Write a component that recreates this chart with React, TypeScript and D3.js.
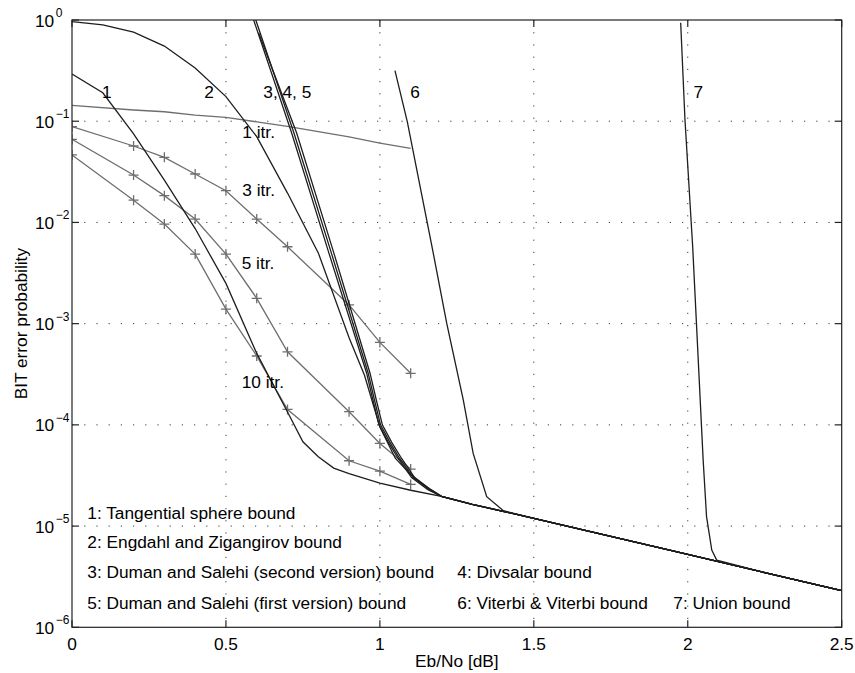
import React, { useEffect } from 'react'
import * as d3 from 'd3'

const W = 855
const H = 673
const plot = { left: 72, right: 841.7, top: 20, bottom: 627.3 }

// error floor that all the bounds run into at high Eb/No
const floorX = [1.2, 1.3, 1.4, 1.5, 1.75, 2.0, 2.25, 2.5]
const floorY = [1.97e-5, 1.64e-5, 1.4e-5, 1.19e-5, 7.9e-6, 5.25e-6, 3.47e-6, 2.3e-6]

// 1: tangential sphere bound
const tsbX = [0, 0.1, 0.2, 0.3, 0.4, 0.5, 0.6, 0.7, 0.75, 0.8, 0.85, 0.9, 1.0, 1.1]
const tsbY = [0.292, 0.191, 0.0748, 0.0262, 0.0087, 0.0025, 5.08e-4, 1.34e-4, 6.8e-5, 4.84e-5, 3.74e-5, 3.3e-5, 2.66e-5, 2.26e-5]

// 2: Engdahl and Zigangirov
const ezX = [0, 0.1, 0.2, 0.3, 0.4, 0.5, 0.6, 0.7, 0.8, 0.9, 0.95, 1.0, 1.05, 1.1, 1.15]
const ezY = [0.962, 0.893, 0.76, 0.553, 0.336, 0.175, 0.0703, 0.0195, 5.0e-3, 7.26e-4, 3.09e-4, 9.55e-5, 4.68e-5, 3.24e-5, 2.45e-5]

// 3, 4, 5: Duman-Salehi (2nd), Divsalar, Duman-Salehi (1st)
const ds2X = [0.59, 0.7135, 0.8314, 0.957, 0.977, 0.997, 1.027, 1.059, 1.103, 1.156]
const ds2Y = [1.0, 0.0764, 5.33e-3, 3.24e-4, 1.78e-4, 1.0e-4, 6.76e-5, 4.68e-5, 3.02e-5, 2.29e-5]
const divX = [0.597, 0.7209, 0.8395, 0.962, 0.982, 1.002, 1.032, 1.064, 1.108, 1.162]
const divY = [1.0, 0.0764, 5.33e-3, 3.24e-4, 1.78e-4, 1.0e-4, 6.76e-5, 4.68e-5, 3.02e-5, 2.29e-5]
const ds1X = [0.606, 0.7297, 0.8476, 0.968, 0.988, 1.008, 1.038, 1.07, 1.113, 1.166]
const ds1Y = [0.75, 0.0764, 5.33e-3, 3.24e-4, 1.78e-4, 1.0e-4, 6.76e-5, 4.68e-5, 3.02e-5, 2.29e-5]

// 6: Viterbi & Viterbi
const vvX = [1.049, 1.089, 1.171, 1.217, 1.271, 1.303, 1.347, 1.401]
const vvY = [0.316, 0.0989, 5.42e-3, 1.01e-3, 1.76e-4, 5.22e-5, 1.95e-5, 1.42e-5]

// 7: union bound
const ubX = [1.977, 1.991, 2.016, 2.05, 2.061, 2.078, 2.094]
const ubY = [0.94, 0.103, 5.75e-3, 4.49e-5, 1.24e-5, 5.79e-6, 4.61e-6]

// iterative decoding simulations
const itrX = [0, 0.2, 0.3, 0.4, 0.5, 0.6, 0.7, 0.9, 1.0, 1.1]
const itr1 = [0.1436, 0.129, 0.124, 0.115, 0.109, 0.0986, 0.0891, 0.07, 0.0608, 0.054]
const itr3 = [0.0883, 0.0569, 0.044, 0.0301, 0.0206, 0.0108, 0.00575, 0.00153, 6.53e-4, 3.23e-4]
const itr5 = [0.0663, 0.0294, 0.0184, 0.0108, 0.00487, 1.78e-3, 5.27e-4, 1.35e-4, 6.56e-5, 3.66e-5]
const itr10 = [0.0464, 0.0166, 0.00964, 0.00487, 1.39e-3, 4.79e-4, 1.42e-4, 4.42e-5, 3.49e-5, 2.58e-5]

const xTicks = [0, 0.5, 1, 1.5, 2, 2.5]
const yExps = [0, -1, -2, -3, -4, -5, -6]

const legendLines = [
  { text: '1: Tangential sphere bound', x: 87.3, y: 518.7 },
  { text: '2: Engdahl and Zigangirov bound', x: 87.3, y: 547.5 },
  { text: '3: Duman and Salehi (second version) bound', x: 87.3, y: 578.3 },
  { text: '4: Divsalar bound', x: 457.3, y: 578.3 },
  { text: '5: Duman and Salehi (first version) bound', x: 87.3, y: 609 },
  { text: '6: Viterbi & Viterbi bound', x: 457.3, y: 609 },
  { text: '7: Union bound', x: 673.3, y: 609 },
]

type Pt = [number, number]

function zip(xs: number[], ys: number[]): Pt[] {
  return xs.map((x, i) => [x, ys[i]] as Pt)
}

function withFloor(xs: number[], ys: number[]): Pt[] {
  const head = zip(xs, ys)
  const last = xs[xs.length - 1]
  return head.concat(zip(floorX, floorY).filter((p) => p[0] > last))
}

const FONT = "'Liberation Sans', Arial, Helvetica, sans-serif"

export default function App() {
  useEffect(() => {
    document.body.style.margin = '0'
  }, [])

  const x = d3.scaleLinear().domain([0, 2.5]).range([plot.left, plot.right])
  const y = d3.scaleLog().domain([1e-6, 1]).range([plot.bottom, plot.top])
  const line = d3
    .line<Pt>()
    .x((d) => x(d[0]))
    .y((d) => y(d[1]))

  const bounds = [
    withFloor(tsbX, tsbY),
    withFloor(ezX, ezY),
    withFloor(ds2X, ds2Y),
    withFloor(divX, divY),
    withFloor(ds1X, ds1Y),
    withFloor(vvX, vvY),
    withFloor(ubX, ubY),
  ]
  const sims = [itr1, itr3, itr5, itr10].map((ys) => zip(itrX, ys))
  const marked = sims.slice(1)

  const boundColor = '#1e1e1e'
  const simColor = '#6e6e6e'
  const pw = plot.right - plot.left
  const ph = plot.bottom - plot.top

  return (
    <svg width={W} height={H} style={{ display: 'block', background: '#fff' }} fontFamily={FONT}>
      <defs>
        <clipPath id="plotClip">
          <rect x={plot.left} y={plot.top} width={pw} height={ph} />
        </clipPath>
      </defs>

      {/* dotted grid */}
      <g stroke="#3a3a3a" strokeWidth={1} strokeDasharray="1.2 11">
        {xTicks.slice(1, -1).map((t) => (
          <line key={'gx' + t} x1={x(t)} x2={x(t)} y1={plot.top} y2={plot.bottom} />
        ))}
        {yExps.slice(1, -1).map((e) => (
          <line key={'gy' + e} x1={plot.left} x2={plot.right} y1={y(10 ** e)} y2={y(10 ** e)} />
        ))}
      </g>

      <g clipPath="url(#plotClip)" fill="none">
        {sims.map((pts, i) => (
          <path key={'s' + i} d={line(pts) || ''} stroke={simColor} strokeWidth={1.3} />
        ))}
        {marked.map((pts, i) =>
          pts.map((p, j) => {
            const cx = x(p[0])
            const cy = y(p[1])
            return (
              <path
                key={'m' + i + '-' + j}
                d={`M${cx - 5},${cy}H${cx + 5}M${cx},${cy - 5}V${cy + 5}`}
                stroke={simColor}
                strokeWidth={1.3}
              />
            )
          })
        )}
        {bounds.map((pts, i) => (
          <path key={'b' + i} d={line(pts) || ''} stroke={boundColor} strokeWidth={1.3} />
        ))}
      </g>

      {/* curve labels */}
      <g fontSize={17.3} fill="#000">
        <text x={106.7} y={97.5} textAnchor="middle">1</text>
        <text x={209} y={97.5} textAnchor="middle">2</text>
        <text x={263.3} y={97.5}>3, 4, 5</text>
        <text x={415} y={97.5} textAnchor="middle">6</text>
        <text x={698.3} y={97.5} textAnchor="middle">7</text>
        <text x={242.3} y={137.5}>1 itr.</text>
        <text x={242.3} y={195.5}>3 itr.</text>
        <text x={241.7} y={269}>5 itr.</text>
        <text x={241.7} y={387.7}>10 itr.</text>
        {legendLines.map((l) => (
          <text key={l.text} x={l.x} y={l.y}>{l.text}</text>
        ))}
      </g>

      {/* frame and ticks */}
      <g stroke="#222" strokeWidth={1.2} fill="none">
        <rect x={plot.left} y={plot.top} width={pw} height={ph} />
        {xTicks.map((t) => (
          <g key={'tx' + t}>
            <line x1={x(t)} x2={x(t)} y1={plot.bottom} y2={plot.bottom - 7} />
            <line x1={x(t)} x2={x(t)} y1={plot.top} y2={plot.top + 7} />
          </g>
        ))}
        {yExps.map((e) => (
          <g key={'ty' + e}>
            <line x1={plot.left} x2={plot.left + 7} y1={y(10 ** e)} y2={y(10 ** e)} />
            <line x1={plot.right} x2={plot.right - 7} y1={y(10 ** e)} y2={y(10 ** e)} />
          </g>
        ))}
      </g>

      {/* tick labels */}
      <g fontSize={17.3} fill="#000">
        {xTicks.map((t) => (
          <text key={'lx' + t} x={x(t)} y={649.5} textAnchor="middle">
            {d3.format('')(t)}
          </text>
        ))}
        {yExps.map((e) => (
          <text key={'ly' + e} x={35} y={y(10 ** e) + 6.5}>
            10
            <tspan fontSize={12} dy={-9.5} dx={1.5}>
              {e === 0 ? '0' : '\u2212' + -e}
            </tspan>
          </text>
        ))}
        <text x={(plot.left + plot.right) / 2} y={667} textAnchor="middle">
          Eb/No [dB]
        </text>
        <text
          transform={`translate(26.5,${(plot.top + plot.bottom) / 2}) rotate(-90)`}
          textAnchor="middle"
        >
          BIT error probability
        </text>
      </g>
    </svg>
  )
}
